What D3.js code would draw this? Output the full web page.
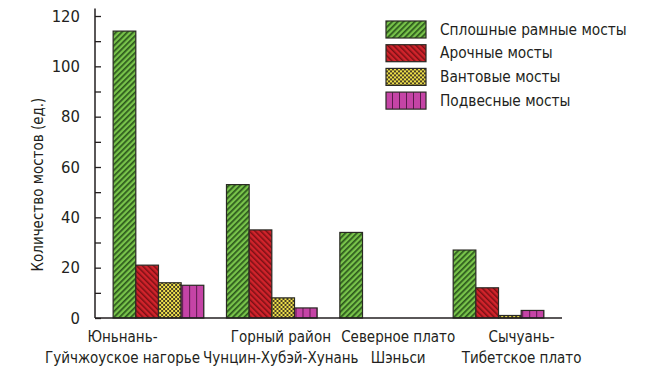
<!doctype html>
<html>
  <head>
    <meta charset="utf-8">
    <script src="https://cdnjs.cloudflare.com/ajax/libs/d3/7.8.5/d3.min.js"></script>
    <style>
      body { margin: 0; background: #fff; }
      svg text { font-family: "Liberation Sans Narrow", "DejaVu Sans Condensed", sans-serif; fill: #231f20; }
    </style>
  </head>
  <body>
    <svg id="chart" width="645" height="374"></svg>
    <script>
      // data
      var regions = [
        ["Юньнань-", "Гуйчжоуское нагорье"],
        ["Горный район", "Чунцин-Хубэй-Хунань"],
        ["Северное плато", "Шэньси"],
        ["Сычуань-", "Тибетское плато"]
      ];
      var seriesNames = ["Сплошные рамные мосты", "Арочные мосты", "Вантовые мосты", "Подвесные мосты"];
      var frameBridges = [114, 53, 34, 27];
      var archBridges = [21, 35, 0, 12];
      var cableBridges = [14, 8, 0, 1];
      var suspBridges = [13, 4, 0, 3];
      var yTicks = [0, 20, 40, 60, 80, 100, 120];

      // layout
      var labelShift = [-36, 9, 13, 23];
      var svg = d3.select("#chart");
      var defs = svg.append("defs");

      // fill patterns
      var p = defs.append("pattern").attr("id", "pat0").attr("patternUnits", "userSpaceOnUse")
        .attr("width", 4).attr("height", 4).attr("patternTransform", "rotate(45)");
      p.append("rect").attr("width", 4).attr("height", 4).attr("fill", "#78c34a");
      p.append("rect").attr("width", 1.7).attr("height", 4).attr("fill", "#2c581c");

      p = defs.append("pattern").attr("id", "pat1").attr("patternUnits", "userSpaceOnUse")
        .attr("width", 4).attr("height", 4).attr("patternTransform", "rotate(-45)");
      p.append("rect").attr("width", 4).attr("height", 4).attr("fill", "#d1232b");
      p.append("rect").attr("width", 1.5).attr("height", 4).attr("fill", "#7a1015");

      p = defs.append("pattern").attr("id", "pat2").attr("patternUnits", "userSpaceOnUse")
        .attr("width", 4).attr("height", 4);
      p.append("rect").attr("width", 4).attr("height", 4).attr("fill", "#4b4224");
      p.append("rect").attr("width", 2).attr("height", 2).attr("fill", "#efe04a");
      p.append("rect").attr("x", 2).attr("y", 2).attr("width", 2).attr("height", 2).attr("fill", "#efe04a");

      p = defs.append("pattern").attr("id", "pat3").attr("patternUnits", "userSpaceOnUse")
        .attr("width", 7).attr("height", 7);
      p.append("rect").attr("width", 7).attr("height", 7).attr("fill", "#c544a6");
      p.append("rect").attr("x", 6).attr("width", 1.2).attr("height", 7).attr("fill", "#5a1a4c");

      var series = [frameBridges, archBridges, cableBridges, suspBridges];
      var fills = ["url(#pat0)", "url(#pat1)", "url(#pat2)", "url(#pat3)"];

      var x0 = d3.scaleBand().domain(d3.range(regions.length)).range([95, 562])
        .paddingInner(0.2).paddingOuter(0.16);
      var x1 = d3.scaleBand().domain(d3.range(series.length)).range([0, x0.bandwidth()]);
      var y = d3.scaleLinear().domain([0, 120]).range([318, 16]);

      // y axis
      svg.append("g").attr("transform", "translate(95,0)")
        .call(d3.axisLeft(y).tickValues(d3.range(10, 120, 20)).tickSize(-6).tickFormat(""))
        .call(g => g.select(".domain").remove());
      svg.append("g").attr("transform", "translate(95,0)")
        .call(d3.axisLeft(y).tickValues(yTicks).tickSize(-6).tickPadding(15))
        .call(g => g.select(".domain").remove())
        .call(g => g.selectAll("text").style("font-size", "16.5px"));
      svg.selectAll(".tick line").attr("stroke", "#231f20").attr("stroke-width", 1.3);

      svg.append("line").attr("x1", 95).attr("x2", 95).attr("y1", y(0)).attr("y2", y(123))
        .attr("stroke", "#231f20").attr("stroke-width", 1.5);

      svg.append("text")
        .attr("transform", "translate(38," + y(53) + ") rotate(-90)")
        .attr("text-anchor", "middle").attr("dominant-baseline", "middle")
        .style("font-size", "15px").text("Количество мостов (ед.)");

      // bars
      var groups = svg.append("g").selectAll("g").data(regions).join("g")
        .attr("transform", (d, i) => "translate(" + x0(i) + ",0)");
      groups.selectAll("rect")
        .data((d, i) => series.map((s, k) => ({k: k, v: s[i]})).filter(e => e.v > 0))
        .join("rect")
        .attr("x", e => x1(e.k))
        .attr("width", x1.bandwidth())
        .attr("y", e => y(e.v))
        .attr("height", e => y(0) - y(e.v))
        .attr("fill", e => fills[e.k])
        .attr("stroke", "#2a2a24").attr("stroke-width", 1.2);

      // x axis line
      svg.append("line").attr("x1", 95).attr("x2", 562).attr("y1", y(0)).attr("y2", y(0))
        .attr("stroke", "#231f20").attr("stroke-width", 1.5);

      // category labels
      var lab = svg.append("g").selectAll("text").data(regions).join("text")
        .attr("text-anchor", "middle").style("font-size", "15px")
        .attr("transform", (d, i) => "translate(" + (x0(i) + x0.bandwidth() / 2 + labelShift[i]) + ",0)");
      lab.append("tspan").attr("x", 0).attr("y", 342).text(d => d[0]);
      lab.append("tspan").attr("x", 0).attr("y", 363).text(d => d[1]);

      // legend
      var leg = svg.append("g").selectAll("g").data(seriesNames).join("g")
        .attr("transform", (d, i) => "translate(386," + (21 + i * 23.7) + ")");
      leg.append("rect").attr("width", 40).attr("height", 17)
        .attr("fill", (d, i) => fills[i]).attr("stroke", "#2a2a24").attr("stroke-width", 1.2);
      leg.append("text").attr("x", 54).attr("y", 9).attr("dominant-baseline", "middle")
        .style("font-size", "15.3px").text(d => d);
    </script>
  </body>
</html>
